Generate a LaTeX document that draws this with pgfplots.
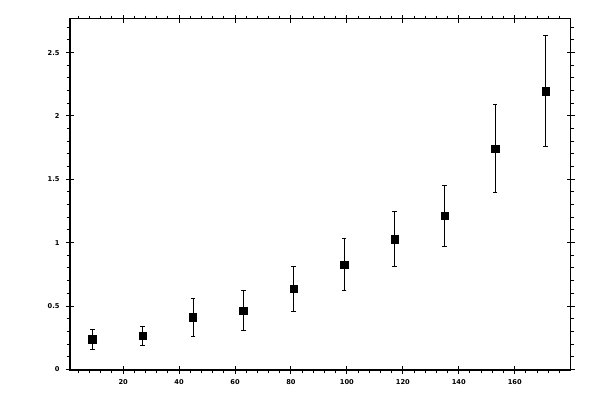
\documentclass[border=0pt]{standalone}
\usepackage{fontspec}
\newfontfamily\tickfont{DejaVu Sans}
\usepackage{pgfplots}
\pgfplotsset{compat=1.18}
\begin{document}
\begin{tikzpicture}
\useasboundingbox (0,0) rectangle (450pt,300pt);
\pgfplotsset{
  frame/.style={
    at={(52.5pt,22.5pt)}, anchor=south west,
    scale only axis, width=375.5pt, height=263.25pt,
    xmin=1, xmax=180, ymin=-0.005, ymax=2.765,
    axis line style={line width=0.75pt},
    every tick/.style={black, line width=0.75pt},
    xtick={20,40,...,160}, ytick={0,0.5,1,1.5,2,2.5},
  }
}
% minor ticks, pointing outwards
\begin{axis}[frame,
    tick align=outside, major tick length=0pt, minor tick length=2.5pt,
    minor xtick={4,8,...,176},
    minor ytick={0.1,0.2,0.3,0.4,0.6,0.7,0.8,0.9,1.1,1.2,1.3,1.4,1.6,1.7,1.8,1.9,2.1,2.2,2.3,2.4,2.6,2.7},
    xticklabels={}, yticklabels={}]
  \addplot[draw=none] coordinates {(10,1)};
\end{axis}
% major ticks across the frame, labels and data
\begin{axis}[frame,
    tick align=center, major tick length=5.75pt, minor tick length=0pt,
    ticklabel style={font=\tickfont\bfseries\fontsize{5}{6}\selectfont},
    /pgf/number format/assume math mode=true,
    xticklabel style={yshift=-0.5pt},
    yticklabel style={xshift=-1.5pt}]
  \addplot[black, only marks, mark=square*, mark size=2.75pt,
    error bars/.cd, y dir=both, y explicit,
    error bar style={line width=0.75pt},
    error mark options={line width=0.75pt, mark size=1.75pt, rotate=90}]
  coordinates {
    (9,0.237)   +- (0,0.079)
    (27,0.266)  +- (0,0.075)
    (45,0.410)  +- (0,0.150)
    (63,0.465)  +- (0,0.158)
    (81,0.637)  +- (0,0.178)
    (99,0.828)  +- (0,0.205)
    (117,1.027) +- (0,0.217)
    (135,1.210) +- (0,0.240)
    (153,1.743) +- (0,0.347)
    (171,2.195) +- (0,0.440)
  };
\end{axis}
\end{tikzpicture}
\end{document}
